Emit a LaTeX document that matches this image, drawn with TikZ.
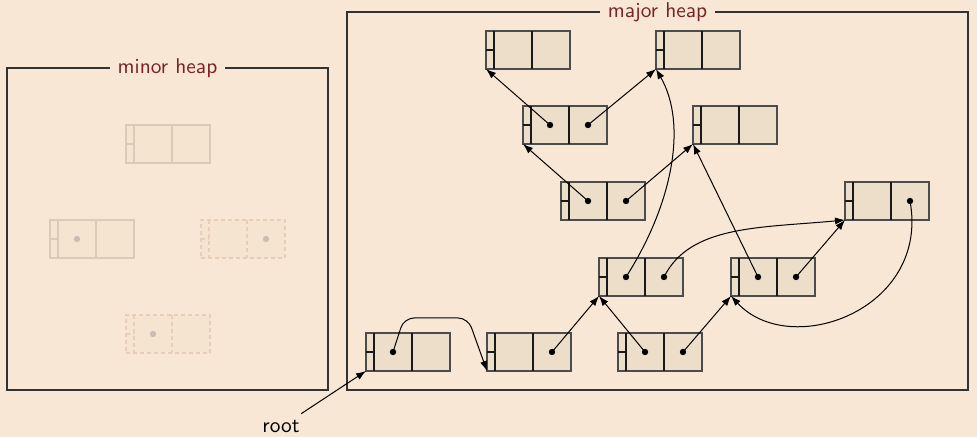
\documentclass[tikz,border=0pt]{standalone}
\usetikzlibrary{calc,arrows.meta}
\definecolor{bg}{RGB}{247,231,212}
\definecolor{cellfill}{RGB}{236,222,200}
\definecolor{titlered}{RGB}{122,34,38}
\definecolor{ghostline}{RGB}{216,203,186}
\definecolor{ghostdash}{RGB}{232,205,184}
\definecolor{ghostfill}{RGB}{244,228,208}
\definecolor{ghostdot}{RGB}{200,190,180}
\newcommand\heapblk[3]{%
  \node[#1 box] (#2) at (#3) {};
  \draw[#1 line] ($(#2.north west)+(8,0)$) -- ($(#2.south west)+(8,0)$)
    ($(#2.north west)+(46,0)$) -- ($(#2.south west)+(46,0)$)
    (#2.west) -- ($(#2.west)+(8,0)$);
  \coordinate (#2-1) at ($(#2.west)+(27,0)$);
  \coordinate (#2-2) at ($(#2.west)+(65,0)$);
}
\begin{document}
\begin{tikzpicture}[x=0.5pt,y=-0.5pt,
  font=\sffamily\fontsize{10.7}{12}\selectfont,
  major box/.style={draw=black!70, fill=cellfill, line width=0.6pt,
    minimum width=42pt, minimum height=19pt, inner sep=0pt, outer sep=0pt,
    anchor=north west},
  major line/.style={draw=black!90, line width=0.6pt},
  ghost box/.style={major box, draw=ghostline, fill=ghostfill},
  ghost line/.style={draw=ghostline, line width=0.6pt},
  gdash box/.style={major box, draw=ghostdash, fill=ghostfill, dash pattern=on 2pt off 1.5pt},
  gdash line/.style={draw=ghostdash, line width=0.6pt, dash pattern=on 2pt off 1.5pt},
  dot/.style={fill=black},
  ghostdotstyle/.style={fill=ghostdot},
  frame/.style={draw=black!80, line width=0.6pt},
  heaptitle/.style={fill=bg, text=titlered, inner xsep=4pt, inner ysep=1pt},
  arr/.style={-{Latex[length=5pt,width=3.6pt]}, line width=0.5pt, black}]
\fill[bg] (0,0) rectangle (977,437);
\useasboundingbox (0,0) rectangle (977,437);
% frames
\draw[frame] (7,68) rectangle (328,390);
\node[heaptitle] (minortitle) at (167.5,68) {minor heap};
\draw[frame] (347,12) rectangle (968,390);
\node[heaptitle] (majortitle) at (657.5,12) {major heap};
% minor heap blocks
\heapblk{ghost}{m1}{126,125}
\heapblk{ghost}{m2}{50,220}
\heapblk{gdash}{m3}{201,220}
\heapblk{gdash}{m4}{126,315}
\fill[ghostdotstyle] (m2-1) circle (1.6pt);
\fill[ghostdotstyle] (m3-2) circle (1.6pt);
\fill[ghostdotstyle] (m4-1) circle (1.6pt);
% major heap blocks
\heapblk{major}{A}{486,31}
\heapblk{major}{B}{656,31}
\heapblk{major}{C}{523,106}
\heapblk{major}{D}{693,106}
\heapblk{major}{E}{561,182}
\heapblk{major}{F}{845,182}
\heapblk{major}{G}{599,258}
\heapblk{major}{H}{731,258}
\heapblk{major}{I}{366,333}
\heapblk{major}{J}{487,333}
\heapblk{major}{K}{618,333}
\foreach \d in {C-1,C-2,E-1,E-2,G-1,G-2,H-1,H-2,F-2,I-1,J-2,K-1,K-2}
  \fill[dot] (\d) circle (1.6pt);
% pointers
\draw[arr] (C-1) -- (A.south west);
\draw[arr] (C-2) -- (B.south west);
\draw[arr] (E-1) -- (C.south west);
\draw[arr] (E-2) -- (D.south west);
\draw[arr] (G-1) .. controls (672,205) and (688,125) .. (B.south west);
\draw[arr] (G-2) .. controls (690,225) and (760,228) .. (F.south west);
\draw[arr] (H-1) -- (D.south west);
\draw[arr] (H-2) -- (F.south west);
\draw[arr] (F-2) .. controls (930,310) and (790,360) .. (H.south west);
\draw[arr] (J-2) -- (G.south west);
\draw[arr] (K-1) -- (G.south west);
\draw[arr] (K-2) -- (H.south west);
\draw[arr, rounded corners=5pt] (I-1) -- (404,318) -- (468,318) -- (J.south west);
\node[text=black] (root) at (281,427) {root};
\draw[arr] (root) -- (I.south west);
\end{tikzpicture}
\end{document}
